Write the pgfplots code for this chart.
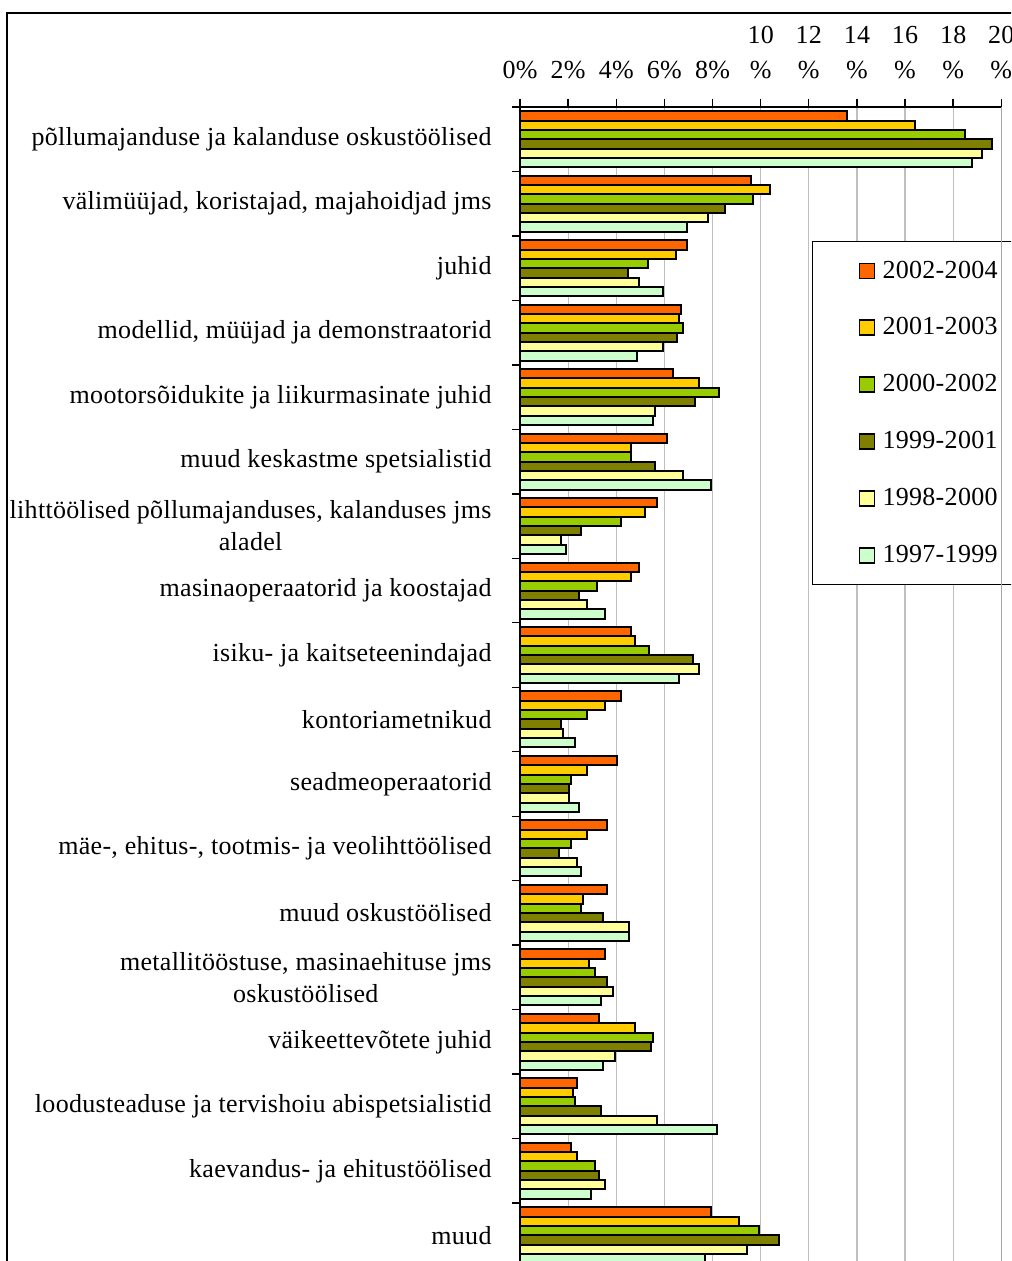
\documentclass[border=0pt]{standalone}
\usepackage{fontspec}
\setmainfont[LetterSpace=1.2]{Liberation Serif}
\usepackage{pgfplots}
\pgfplotsset{compat=1.18}
\definecolor{cA}{HTML}{FF6600}
\definecolor{cB}{HTML}{FFCC00}
\definecolor{cC}{HTML}{99CC00}
\definecolor{cD}{HTML}{808000}
\definecolor{cE}{HTML}{FFFF99}
\definecolor{cF}{HTML}{CCFFCC}
\pgfplotsset{
  mybar/.style={xbar, bar width=0.1448, bar shift=#1, draw=black, line width=1pt,
    legend image code/.code={\draw[##1, line width=0.8pt] (5pt,-3.75pt) rectangle (12.5pt,3.75pt); \path (14pt,0pt);}},
}
\begin{document}
\begin{tikzpicture}
\path[use as bounding box] (0,0) rectangle (505.5pt,-630.5pt);
\clip (0,0) rectangle (505.5pt,-630.5pt);
\draw[black, line width=0.7pt] (3.5pt,-700pt) -- (3.5pt,-6.5pt) -- (600pt,-6.5pt);
\begin{axis}[
  name=ax,
  at={(260pt,-53.5pt)}, anchor=north west,
  scale only axis, width=240.65pt, height=580.25pt,
  xmin=0, xmax=20, ymin=-0.5, ymax=17.5,
  axis x line*=top, axis y line*=left,
  tick align=outside, major tick length=4pt,
  xtick={0,2,...,20},
  xticklabels={0\%,2\%,4\%,6\%,8\%,{10\\[1.5pt]\%},{12\\[1.5pt]\%},{14\\[1.5pt]\%},{16\\[1.5pt]\%},{18\\[1.5pt]\%},{20\\[1.5pt]\%}},
  xticklabel style={align=center, font=\fontsize{13}{16}\selectfont, yshift=6.5pt},
  ytick={-0.5,0.5,...,17.5},
  yticklabels={{},muud,kaevandus- ja ehitustöölised,loodusteaduse ja tervishoiu abispetsialistid,väikeettevõtete juhid,{metallitööstuse, masinaehituse jms\\oskustöölised},muud oskustöölised,{mäe-, ehitus-, tootmis- ja veolihttöölised},seadmeoperaatorid,kontoriametnikud,isiku- ja kaitseteenindajad,masinaoperaatorid ja koostajad,{lihttöölised põllumajanduses, kalanduses jms\\aladel},muud keskastme spetsialistid,mootorsõidukite ja liikurmasinate juhid,{modellid, müüjad ja demonstraatorid},juhid,{välimüüjad, koristajad, majahoidjad jms},põllumajanduse ja kalanduse oskustöölised},
  yticklabel style={align=center, font=\fontsize{13}{16}\selectfont, yshift=-16.12pt, xshift=-6.7pt},
  xmajorgrids, grid style={draw=gray!50, line width=0.6pt},
  axis line style={black, line width=0.7pt},
  tick style={black, line width=0.7pt},
  legend style={at={(0.6067,0.8845)}, anchor=north west, draw=black, line width=0.7pt, fill=white, font=\fontsize{13}{15}\selectfont, row sep=14.3pt, inner xsep=23pt, inner ysep=7.5pt},
  legend cell align=left,
]
\addplot[mybar=0.362, fill=cA] coordinates {(13.6,17)(9.6,16)(6.95,15)(6.7,14)(6.37,13)(6.12,12)(5.71,11)(4.96,10)(4.63,9)(4.21,8)(4.04,7)(3.63,6)(3.63,5)(3.55,4)(3.3,3)(2.38,2)(2.13,1)(7.95,0)};
\addplot[mybar=0.2172, fill=cB] coordinates {(16.4,17)(10.4,16)(6.5,15)(6.62,14)(7.45,13)(4.63,12)(5.21,11)(4.63,10)(4.79,9)(3.55,8)(2.8,7)(2.8,6)(2.63,5)(2.88,4)(4.79,3)(2.22,2)(2.38,1)(9.11,0)};
\addplot[mybar=0.0724, fill=cC] coordinates {(18.5,17)(9.7,16)(5.3,15)(6.77,14)(8.28,13)(4.63,12)(4.21,11)(3.21,10)(5.37,9)(2.8,8)(2.13,7)(2.13,6)(2.55,5)(3.13,4)(5.54,3)(2.3,2)(3.13,1)(9.94,0)};
\addplot[mybar=-0.0724, fill=cD] coordinates {(19.6,17)(8.5,16)(4.5,15)(6.54,14)(7.29,13)(5.62,12)(2.55,11)(2.47,10)(7.2,9)(1.72,8)(2.05,7)(1.63,6)(3.46,5)(3.63,4)(5.46,3)(3.38,2)(3.3,1)(10.78,0)};
\addplot[mybar=-0.2172, fill=cE] coordinates {(19.2,17)(7.8,16)(4.96,15)(5.96,14)(5.62,13)(6.79,12)(1.72,11)(2.8,10)(7.45,9)(1.8,8)(2.05,7)(2.38,6)(4.54,5)(3.88,4)(3.96,3)(5.71,2)(3.55,1)(9.45,0)};
\addplot[mybar=-0.362, fill=cF] coordinates {(18.8,17)(6.95,16)(5.96,15)(4.88,14)(5.54,13)(7.95,12)(1.9,11)(3.55,10)(6.62,9)(2.3,8)(2.47,7)(2.55,6)(4.54,5)(3.38,4)(3.46,3)(8.2,2)(2.96,1)(7.7,0)};
\legend{2002-2004,2001-2003,2000-2002,1999-2001,1998-2000,1997-1999}
\end{axis}
\draw[gray!70, line width=0.8pt] (ax.north east) -- (ax.south east);
\end{tikzpicture}
\end{document}
